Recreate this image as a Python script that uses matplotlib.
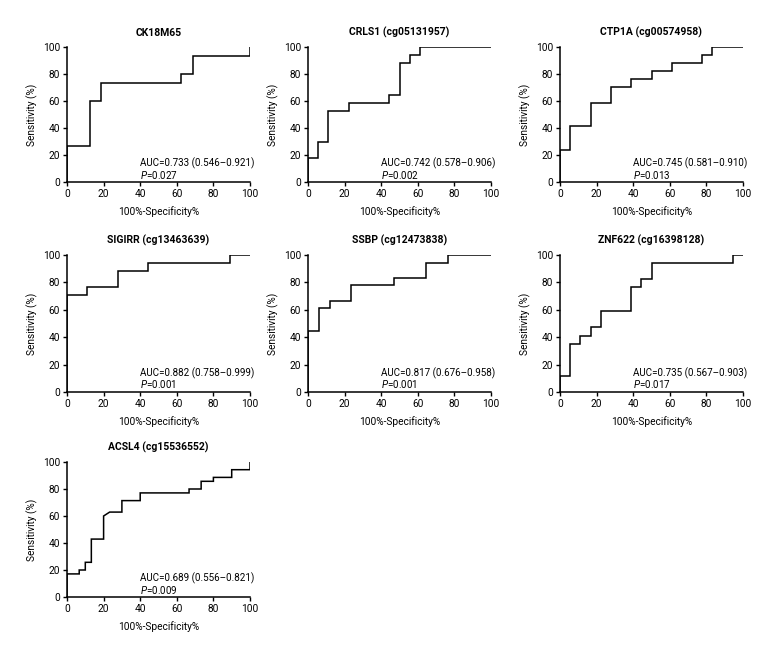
import matplotlib
matplotlib.use("Agg")
import matplotlib.pyplot as plt

plt.rcParams["font.family"] = ["Roboto", "DejaVu Sans"]
plt.rcParams["mathtext.fontset"] = "custom"
plt.rcParams["mathtext.it"] = "Roboto:italic"
plt.rcParams["mathtext.rm"] = "Roboto"

# ROC step points: 100%-specificity (x) and sensitivity (y)
titles = [
    "CK18M65",
    "CRLS1 (cg05131957)",
    "CTP1A (cg00574958)",
    "SIGIRR (cg13463639)",
    "SSBP (cg12473838)",
    "ZNF622 (cg16398128)",
    "ACSL4 (cg15536552)",
]

ck18_x = [0, 0, 12.5, 12.5, 18.75, 18.75, 62.5, 62.5, 68.75, 68.75, 100, 100]
ck18_y = [0, 26.7, 26.7, 60, 60, 73.3, 73.3, 80, 80, 93.3, 93.3, 100]

crls1_x = [0, 0, 5.56, 5.56, 11.1, 11.1, 22.2, 22.2, 44.4, 44.4, 50, 50, 55.6, 55.6, 61.1, 61.1, 100]
crls1_y = [0, 17.6, 17.6, 29.4, 29.4, 52.9, 52.9, 58.8, 58.8, 64.7, 64.7, 88.2, 88.2, 94.1, 94.1, 100, 100]

ctp1a_x = [0, 0, 5.56, 5.56, 16.7, 16.7, 27.8, 27.8, 38.9, 38.9, 50, 50, 61.1, 61.1, 77.8, 77.8, 83.3, 83.3, 100]
ctp1a_y = [0, 23.5, 23.5, 41.2, 41.2, 58.8, 58.8, 70.6, 70.6, 76.5, 76.5, 82.4, 82.4, 88.2, 88.2, 94.1, 94.1, 100, 100]

sigirr_x = [0, 0, 11.1, 11.1, 27.8, 27.8, 44.4, 44.4, 88.9, 88.9, 100]
sigirr_y = [0, 70.6, 70.6, 76.5, 76.5, 88.2, 88.2, 94.1, 94.1, 100, 100]

ssbp_x = [0, 0, 5.88, 5.88, 11.8, 11.8, 23.5, 23.5, 47.1, 47.1, 64.7, 64.7, 76.5, 76.5, 100]
ssbp_y = [0, 44.4, 44.4, 61.1, 61.1, 66.7, 66.7, 77.8, 77.8, 83.3, 83.3, 94.4, 94.4, 100, 100]

znf622_x = [0, 0, 5.56, 5.56, 11.1, 11.1, 16.7, 16.7, 22.2, 22.2, 38.9, 38.9, 44.4, 44.4, 50, 50, 94.4, 94.4, 100]
znf622_y = [0, 11.8, 11.8, 35.3, 35.3, 41.2, 41.2, 47.1, 47.1, 58.8, 58.8, 76.5, 76.5, 82.4, 82.4, 94.1, 94.1, 100, 100]

acsl4_x = [0, 0, 6.67, 6.67, 10, 10, 13.3, 13.3, 20, 20, 23.3, 30, 30, 40, 40, 66.7, 66.7, 73.3, 73.3, 80, 80, 90, 90, 100, 100]
acsl4_y = [0, 17.1, 17.1, 20, 20, 25.7, 25.7, 42.9, 42.9, 60, 62.9, 62.9, 71.4, 71.4, 77.1, 77.1, 80, 80, 85.7, 85.7, 88.6, 88.6, 94.3, 94.3, 100]

auc_labels = [
    "AUC=0.733 (0.546\u20130.921)",
    "AUC=0.742 (0.578\u20130.906)",
    "AUC=0.745 (0.581\u20130.910)",
    "AUC=0.882 (0.758\u20130.999)",
    "AUC=0.817 (0.676\u20130.958)",
    "AUC=0.735 (0.567\u20130.903)",
    "AUC=0.689 (0.556\u20130.821)",
]
p_values = ["0.027", "0.002", "0.013", "0.001", "0.001", "0.017", "0.009"]

curves = [
    (ck18_x, ck18_y),
    (crls1_x, crls1_y),
    (ctp1a_x, ctp1a_y),
    (sigirr_x, sigirr_y),
    (ssbp_x, ssbp_y),
    (znf622_x, znf622_y),
    (acsl4_x, acsl4_y),
]

fig = plt.figure(figsize=(7.8, 6.6), dpi=100)

W, H = 780.0, 660.0
lefts = [67, 308, 560]
rows = [(47, 182), (255, 392), (462, 597)]
axw = 183

for i, (title, (xs, ys)) in enumerate(zip(titles, curves)):
    r, c = divmod(i, 3)
    top, bottom = rows[r]
    ax = fig.add_axes([lefts[c] / W, 1 - bottom / H, axw / W, (bottom - top) / H])
    ax.plot(xs, ys, color="black", lw=1.1, solid_joinstyle="miter")
    ax.set_xlim(0, 100)
    ax.set_ylim(0, 100)
    ax.set_xticks([0, 20, 40, 60, 80, 100])
    ax.set_yticks([0, 20, 40, 60, 80, 100])
    ax.spines["top"].set_visible(False)
    ax.spines["right"].set_visible(False)
    ax.spines["left"].set_linewidth(1.1)
    ax.spines["bottom"].set_linewidth(1.1)
    ax.tick_params(direction="out", length=3, width=1, labelsize=7.3, pad=2)
    ax.set_title(title, fontsize=7.5, fontweight="bold", pad=8)
    ax.set_xlabel("100%-Specificity%", fontsize=7.3, labelpad=5.5)
    ax.set_ylabel("Sensitivity (%)", fontsize=7.3, labelpad=3.5)
    ax.text(40, 14, auc_labels[i], fontsize=7.1, va="center", ha="left")
    ax.text(40, 5.5, "$P$=" + p_values[i], fontsize=7.1, va="center", ha="left")

fig.savefig("out.png", dpi=100)
